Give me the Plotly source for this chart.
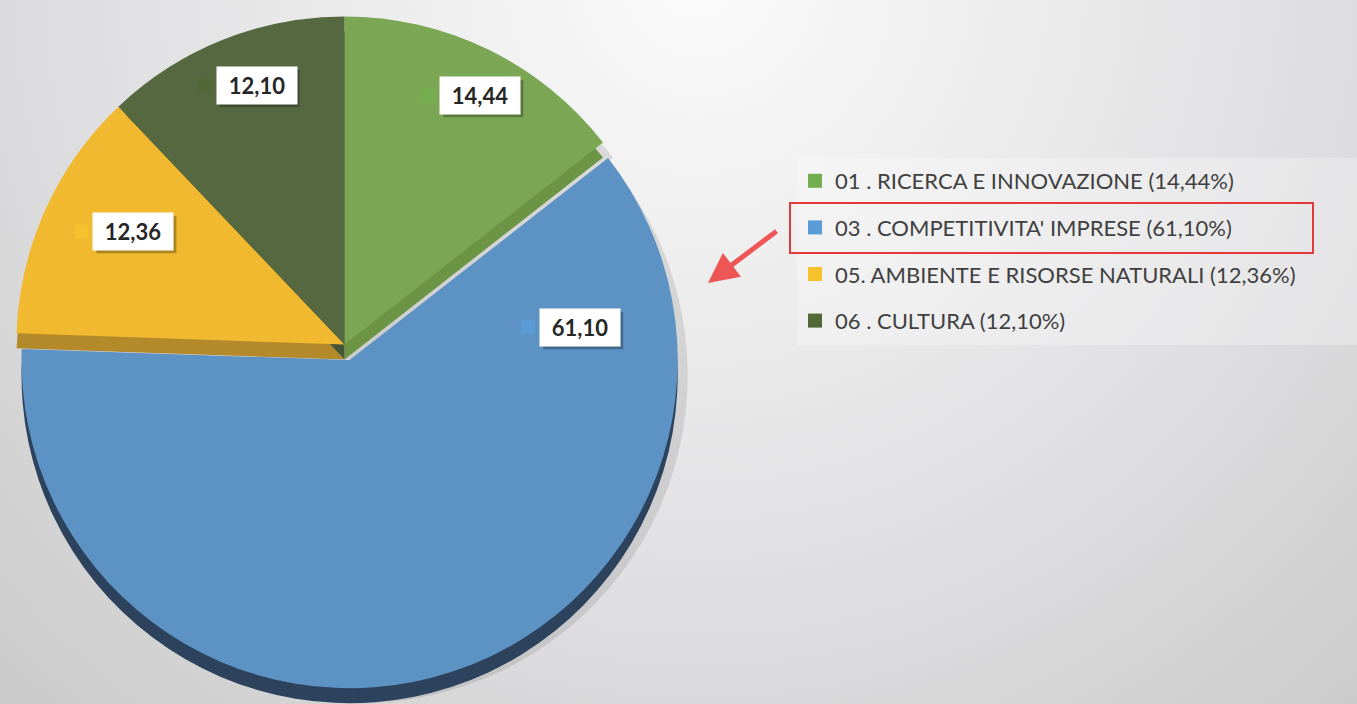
import math
import plotly.graph_objects as go

# ---------------- data ----------------
codes = ["01", "03", "05", "06"]
names = ["01 . RICERCA E INNOVAZIONE", "03 . COMPETITIVITA' IMPRESE",
         "05. AMBIENTE E RISORSE NATURALI", "06 . CULTURA"]
values = [14.44, 61.10, 12.36, 12.10]

# ---------------- style ----------------
W, H = 1357, 704
top_colors = ["#7ba755", "#5d92c4", "#f0b930", "#566840"]
side_colors = ["#6b9445", "#2d425c", "#b3892a", "#465533"]
key_colors = ["#74ad4d", "#5b9bd5", "#f5c22e", "#526836"]
pulls = [0, 0.05, 0, 0]
RIM = 15
label_frac = [0.55, 0.136, 0.59, 0.57]  # angular position of the label inside its slice
label_rad = [0.865, 0.71, 0.73, 0.835]  # radial position as fraction of radius
FONT = "Lato"

def fmt(v):
    return f"{v:.2f}".replace(".", ",")

fig = go.Figure()

# background radial gradient (drawn on hidden full-page axes)
gcx, gcy, gh = 700, -20, 1000
fig.add_trace(go.Scatter(
    x=[gcx - gh, gcx + gh, gcx + gh, gcx - gh, gcx - gh],
    y=[gcy - gh, gcy - gh, gcy + gh, gcy + gh, gcy - gh],
    mode="lines", fill="toself", line=dict(width=0),
    fillgradient=dict(type="radial",
                      colorscale=[[0, "#fbfbfb"], [0.66, "#dddddf"], [0.8, "#d5d5d6"], [1, "#cbcbcc"]]),
    hoverinfo="skip", showlegend=False))

box = H - RIM
dom_x = [0, box / W]
main_dom_y = [RIM / H, 1]
rim_dom_y = [0, 1 - RIM / H]

common = dict(values=values, labels=names, sort=False, direction="clockwise", rotation=0,
              pull=pulls, textinfo="none", hoverinfo="skip", showlegend=False)

# soft drop shadow
fig.add_trace(go.Pie(**common, domain=dict(x=[10 / W, (box + 10) / W], y=rim_dom_y),
                     marker=dict(colors=["rgba(70,70,70,0.14)"] * 4, line=dict(width=0))))
# side (rim) of the 3D pie
fig.add_trace(go.Pie(**common, domain=dict(x=dom_x, y=rim_dom_y),
                     marker=dict(colors=side_colors, line=dict(width=0))))
# top face
fig.add_trace(go.Pie(**common, domain=dict(x=dom_x, y=main_dom_y),
                     marker=dict(colors=top_colors, line=dict(width=0))))

# legend entries
for i, n in enumerate(names):
    fig.add_trace(go.Scatter(x=[None], y=[None], mode="markers", name=f"{n} ({fmt(values[i])}%)",
                             legendgroup=codes[i],
                             marker=dict(symbol="square", size=14, color=key_colors[i])))

# ---------------- data labels ----------------
r = box / (2 * (1 + max(pulls)))
cx, cy = box / 2, box / 2  # pixels from top-left
total = sum(values)
annotations = []
shapes = []
start = 0.0
for i, v in enumerate(values):
    span = v / total * 360
    mid = start + span / 2
    ang = math.radians(start + label_frac[i] * span)
    px = cx + pulls[i] * r * math.sin(math.radians(mid)) + label_rad[i] * r * math.sin(ang)
    py = cy - pulls[i] * r * math.cos(math.radians(mid)) - label_rad[i] * r * math.cos(ang)
    xp, yp = px / W, 1 - py / H
    pix = dict(type="rect", xref="paper", yref="paper", xsizemode="pixel", ysizemode="pixel",
               xanchor=xp, yanchor=yp, line=dict(width=0))
    # drop shadow of the label box
    shapes.append(dict(pix, x0=-37, x1=43, y0=-22, y1=15, fillcolor="rgba(0,0,0,0.28)"))
    # legend key inside the label
    shapes.append(dict(pix, x0=-59, x1=-45, y0=-7, y1=7, fillcolor=key_colors[i]))
    annotations.append(dict(x=xp, y=yp, xref="paper", yref="paper", showarrow=False, xanchor="center",
                            yanchor="middle", width=72, height=29, borderpad=4,
                            text=f"<b>{fmt(v)}</b>", bgcolor="white",
                            font=dict(family=FONT, size=22, color="#262626")))
    start += span

# legend panel, highlight box and arrow
shapes.insert(0, dict(type="rect", xref="paper", yref="paper", x0=797 / W, x1=1, y0=1 - 345 / H, y1=1 - 158 / H,
                      fillcolor="rgba(255,255,255,0.28)", line=dict(width=0), layer="above"))
shapes.append(dict(type="rect", xref="paper", yref="paper", x0=790 / W, x1=1313 / W, y0=1 - 253 / H, y1=1 - 203 / H,
                   line=dict(color="#e03a3a", width=2), fillcolor="rgba(0,0,0,0)"))
annotations.append(dict(x=708 / W, y=1 - 283 / H, xref="paper", yref="paper", text="", showarrow=True,
                        ax=70, ay=-53, arrowhead=2, arrowsize=1.2, arrowwidth=5, arrowcolor="#ee5555"))

fig.update_layout(
    width=W, height=H, margin=dict(l=0, r=0, t=0, b=0),
    paper_bgcolor="#e6e6e7", plot_bgcolor="rgba(0,0,0,0)",
    xaxis=dict(range=[0, W], visible=False, fixedrange=True),
    yaxis=dict(range=[H, 0], visible=False, fixedrange=True),
    showlegend=True,
    legend=dict(x=795 / W, y=1 - 160 / H, xanchor="left", yanchor="top",
                traceorder="grouped", tracegroupgap=15, bgcolor="rgba(0,0,0,0)",
                font=dict(family=FONT, size=22, color="#404040"), itemclick=False),
    annotations=annotations, shapes=shapes,
)

fig.write_html("out.html", config={"displayModeBar": False},
               post_script="document.body.style.margin='0';document.body.style.overflow='hidden';")
